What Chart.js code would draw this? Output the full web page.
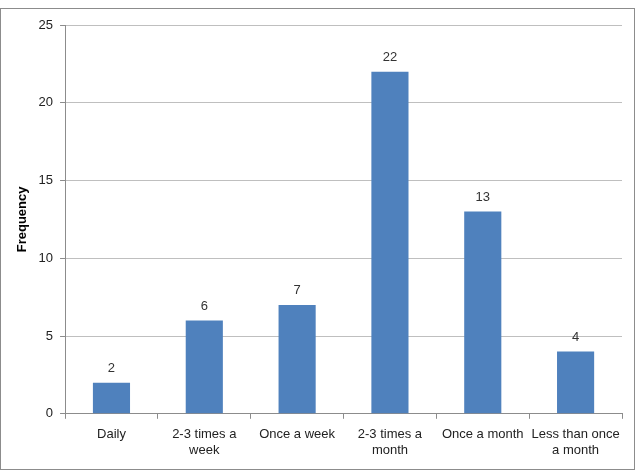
<!DOCTYPE html>
<html><head><meta charset="utf-8">
<script src="https://cdn.jsdelivr.net/npm/chart.js@4"></script>
<style>
html,body{margin:0;padding:0;background:#fff;}
#wrap{position:absolute;left:0;top:0;width:637px;height:473px;}
#frame{position:absolute;left:0;top:8px;width:635px;height:462px;border:1px solid #8c8c8c;box-sizing:border-box;pointer-events:none;}
</style></head>
<body>
<div id="wrap"><canvas id="c" width="637" height="473"></canvas><div id="frame"></div></div>
<script>
const categories = [["Daily"], ["2-3 times a","week"], ["Once a week"], ["2-3 times a","month"], ["Once a month"], ["Less than once","a month"]];
const frequency = [2, 6, 7, 22, 13, 4];
const yTicks = [0, 5, 10, 15, 20, 25];

const valueLabels = {
  id: 'valueLabels',
  afterDatasetsDraw(chart) {
    const ctx = chart.ctx;
    ctx.save();
    ctx.font = '13px "Liberation Sans", Arial, sans-serif';
    ctx.fillStyle = '#333';
    ctx.textAlign = 'center';
    ctx.textBaseline = 'bottom';
    chart.getDatasetMeta(0).data.forEach((bar, i) => {
      ctx.fillText(String(frequency[i]), bar.x, bar.y - 8);
    });
    ctx.restore();
  }
};

new Chart(document.getElementById('c'), {
  type: 'bar',
  data: {
    labels: categories,
    datasets: [{ data: frequency, backgroundColor: '#4F81BD', borderWidth: 0,
      categoryPercentage: 1.0, barPercentage: 0.4 }]
  },
  options: {
    responsive: false,
    animation: false,
    devicePixelRatio: 1,
    layout: { padding: { left: 15, right: 15, top: 25, bottom: 7 } },
    plugins: { legend: { display: false }, tooltip: { enabled: false } },
    scales: {
      x: {
        grid: { display: true, drawOnChartArea: false, drawTicks: true, tickLength: 5, color: '#8c8c8c', offset: true },
        border: { color: '#8c8c8c' },
        ticks: { color: '#222', font: { family: '"Liberation Sans", Arial, sans-serif', size: 13 }, maxRotation: 0, autoSkip: false, padding: 8 }
      },
      y: {
        min: 0, max: 25,
        afterBuildTicks(axis) { axis.ticks = yTicks.map(v => ({ value: v })); },
        grid: { color: '#bfbfbf', tickLength: 5, tickColor: '#8c8c8c' },
        border: { color: '#8c8c8c' },
        ticks: { color: '#222', font: { family: '"Liberation Sans", Arial, sans-serif', size: 13 }, padding: 7 },
        title: { display: true, text: 'Frequency', color: '#000', font: { family: '"Liberation Sans", Arial, sans-serif', size: 13, weight: 'bold' }, padding: { top: 0, bottom: 1 } }
      }
    }
  },
  plugins: [valueLabels]
});
</script>
</body></html>
